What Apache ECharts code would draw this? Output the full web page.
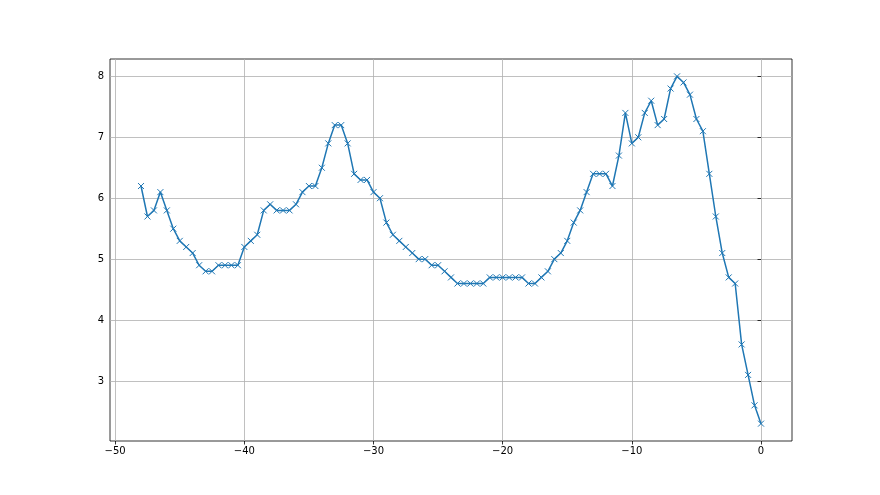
<!DOCTYPE html>
<html>
<head>
<meta charset="utf-8">
<script src="https://cdn.jsdelivr.net/npm/echarts@6/dist/echarts.min.js"></script>
<style>html,body{margin:0;padding:0;background:#fff}#c{width:880px;height:495px}</style>
</head>
<body>
<div id="c"></div>
<script>
const xStart = -48;
const xStep = 0.5;
const yValues = [
  6.2, 5.7, 5.8, 6.1, 5.8, 5.5, 5.3, 5.2, 5.1, 4.9,
  4.8, 4.8, 4.9, 4.9, 4.9, 4.9, 5.2, 5.3, 5.4, 5.8,
  5.9, 5.8, 5.8, 5.8, 5.9, 6.1, 6.2, 6.2, 6.5, 6.9,
  7.2, 7.2, 6.9, 6.4, 6.3, 6.3, 6.1, 6.0, 5.6, 5.4,
  5.3, 5.2, 5.1, 5.0, 5.0, 4.9, 4.9, 4.8, 4.7, 4.6,
  4.6, 4.6, 4.6, 4.6, 4.7, 4.7, 4.7, 4.7, 4.7, 4.7,
  4.6, 4.6, 4.7, 4.8, 5.0, 5.1, 5.3, 5.6, 5.8, 6.1,
  6.4, 6.4, 6.4, 6.2, 6.7, 7.4, 6.9, 7.0, 7.4, 7.6,
  7.2, 7.3, 7.8, 8.0, 7.9, 7.7, 7.3, 7.1, 6.4, 5.7,
  5.1, 4.7, 4.6, 3.6, 3.1, 2.6, 2.3
];
const xTicks = [-50, -40, -30, -20, -10, 0];
const yTicks = [3, 4, 5, 6, 7, 8];

const data = yValues.map((v, i) => [xStart + i * xStep, v]);
const xs = data.map(d => d[0]);
const xMin = Math.min(...xs), xMax = Math.max(...xs);
const yMin = Math.min(...yValues), yMax = Math.max(...yValues);
const xPad = (xMax - xMin) * 0.05, yPad = (yMax - yMin) * 0.05;

const labelStyle = { color: '#000', fontSize: 10, fontFamily: 'DejaVu Sans' };
const chart = echarts.init(document.getElementById('c'), null, { renderer: 'canvas' });
chart.setOption({
  animation: false,
  backgroundColor: '#fff',
  grid: { left: 110, right: 88, top: 59, bottom: 54, show: true, borderColor: '#000', borderWidth: 0.8, backgroundColor: 'transparent' },
  xAxis: {
    type: 'value', min: xMin - xPad, max: xMax + xPad,
    axisLine: { show: false },
    axisTick: { show: true, inside: false, length: 3.5, lineStyle: { color: '#000', width: 0.8 }, customValues: xTicks },
    axisLabel: { ...labelStyle, margin: 5, customValues: xTicks, formatter: v => String(v).replace('-', '\u2212') },
    splitLine: { show: true, lineStyle: { color: '#b0b0b0', width: 0.8 } }
  },
  yAxis: {
    type: 'value', min: yMin - yPad, max: yMax + yPad,
    axisLine: { show: false },
    axisTick: { show: true, inside: false, length: 3.5, lineStyle: { color: '#000', width: 0.8 }, customValues: yTicks },
    axisLabel: { ...labelStyle, margin: 6, customValues: yTicks },
    splitLine: { show: true, lineStyle: { color: '#b0b0b0', width: 0.8 } }
  },
  series: [{
    type: 'line', data: data,
    lineStyle: { color: '#1f77b4', width: 1.5 },
    symbol: 'path://M0,0L10,10M10,0L0,10', symbolSize: 6,
    showAllSymbol: true,
    itemStyle: { color: 'transparent', borderColor: '#1f77b4', borderWidth: 1 }
  }]
});
</script>
</body>
</html>
